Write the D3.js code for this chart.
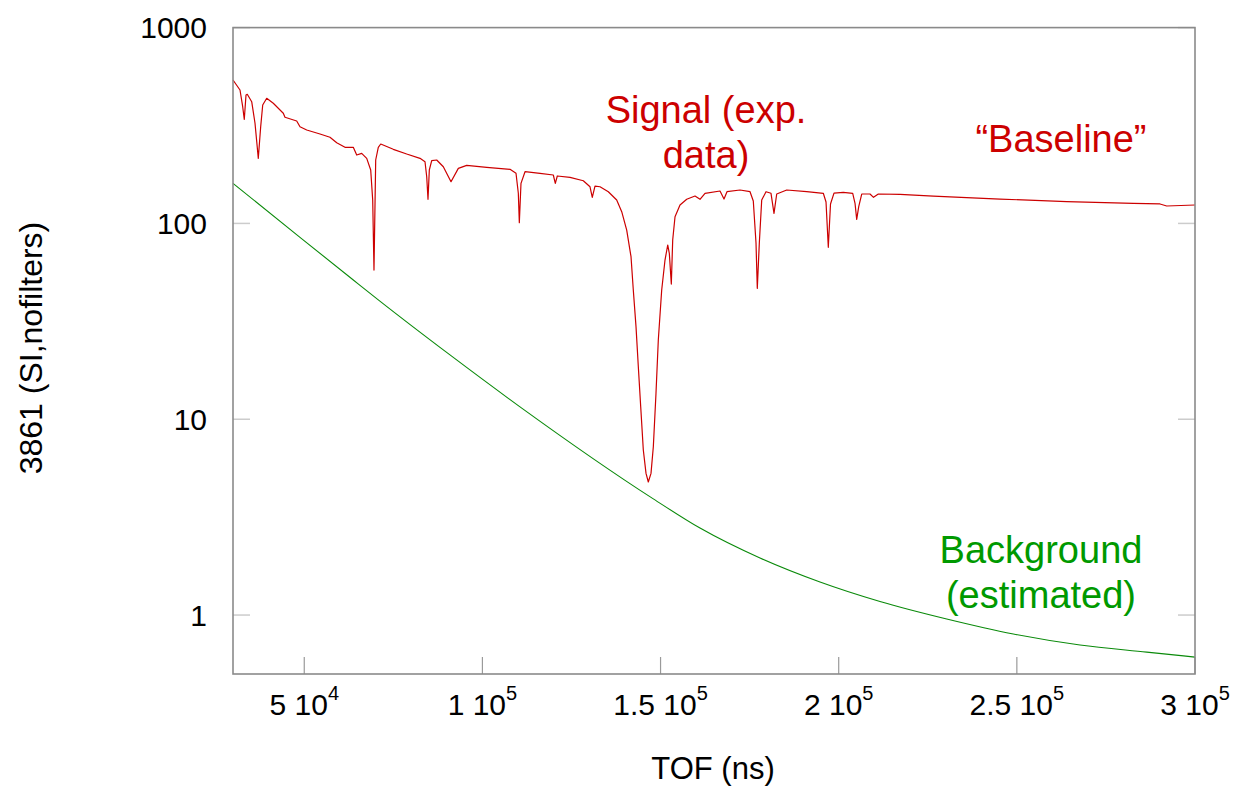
<!DOCTYPE html>
<html>
<head>
<meta charset="utf-8">
<script src="https://cdn.jsdelivr.net/npm/d3@7"></script>
<style>
  html, body { margin: 0; padding: 0; background: #ffffff; }
  svg { display: block; font-family: "Liberation Sans", Arial, sans-serif; }
</style>
</head>
<body>
<svg id="chart" width="1235" height="789"></svg>
<script>
// ---------- data ----------
const signalX = [30000, 31965, 32720, 33170, 33650, 34010, 35250, 36170, 37100, 37770,
  38340, 39460, 41310, 44120, 44590, 47880, 48800, 50690, 54420, 57220,
  59110, 61430, 63760, 64720, 66120, 67530, 68650, 69210, 69570, 70050,
  70780, 71460, 74990, 78750, 82490, 83890, 84370, 84730, 85100, 85770,
  87170, 89030, 91190, 93240, 95590, 101210, 107750, 109430, 110080, 110360,
  110830, 111960, 116170, 119900, 120460, 121020, 124590, 128320, 130200, 130840,
  131600, 133010, 135340, 137690, 139100, 140500, 141710, 142350, 143110, 143760,
  144430, 145160, 145920, 146560, 147320, 147970, 148720, 149370, 150320, 151250,
  152010, 152460, 153020, 153410, 154060, 155460, 157340, 159670, 161070, 162480,
  166690, 167810, 168650, 172300, 175110, 176030, 176790, 177150, 177720, 178390,
  179600, 181000, 181840, 182600, 185410, 191020, 195680, 196440, 197080, 197700,
  198680, 201290, 203930, 204580, 205050, 205620, 206460, 208790, 209770, 211120,
  217210, 226550, 245270, 263990, 282690, 290180, 292060, 300000];
const signalY = [540, 480, 394.5, 340.1, 452.7, 456.4, 418.4, 325.6, 215.0, 311.8,
  402.5, 435.4, 410.6, 365.1, 348.3, 333.4, 311.8, 299.9, 286.2, 275.3,
  258.4, 244.7, 244.7, 223.5, 228.0, 215.0, 187.4, 131.7, 57.8, 210.8,
  244.7, 254.4, 239.0, 226.2, 215.0, 206.6, 173.2, 132.8, 187.4, 209.1,
  210.8, 194.8, 163.3, 191.1, 198.0, 193.4, 188.9, 180.3, 142.5, 100.8,
  160.2, 183.7, 180.3, 176.7, 160.2, 174.7, 172.0, 165.2, 153.9, 135.9,
  155.2, 153.9, 145.2, 131.7, 114.8, 92.5, 67.6, 45.7, 29.7, 18.54,
  11.58, 6.96, 5.29, 4.78, 5.29, 7.24, 13.56, 25.4, 45.7, 65.0,
  77.6, 70.4, 49.0, 82.3, 108.2, 124.2, 132.8, 138.0, 132.8, 142.5,
  146.4, 133.2, 145.2, 148.1, 145.2, 130.1, 79.4, 46.6, 79.4, 131.7,
  145.2, 142.5, 112.6, 141.3, 148.1, 145.2, 142.5, 128.6, 75.5, 125.7,
  142.9, 144.1, 142.5, 126.7, 104.9, 121.7, 141.3, 141.3, 135.9, 141.3,
  140.8, 138.0, 133.2, 129.1, 126.7, 125.7, 122.7, 124.2];

const backgroundX = [30000, 48800, 63770, 70780, 90900, 110550, 147970, 161070,
  177910, 194750, 211590, 230310, 249010, 267730, 286450, 300000];
const backgroundY = [160.2, 84.9, 51.4, 40.7, 21.3, 11.57, 3.92, 2.78,
  1.955, 1.474, 1.172, 0.954, 0.800, 0.703, 0.647, 0.610];

const xTickValues = [50000, 100000, 150000, 200000, 250000, 300000];
const xTickMantissa = ["5", "1", "1.5", "2", "2.5", "3"];
const xTickExponent = ["4", "5", "5", "5", "5", "5"];
const yTickValues = [1, 10, 100, 1000];
const yTickLabels = ["1", "10", "100", "1000"];

const xTitle = "TOF (ns)";
const yTitle = "3861 (SI,nofilters)";

// ---------- layout ----------
const svg = d3.select("#chart");
const mLeft = 233, mRight = 1195, mTop = 27.6, mBottom = 674;

const x = d3.scaleLinear().domain([30000, 300000]).range([mLeft, mRight]);
const y = d3.scaleLog().domain([0.5, 1000]).range([mBottom, mTop]);

const red = "#cc0000", green = "#009900";

// ticks (inward)
const tickLen = 17;
svg.append("g").selectAll("line").data(xTickValues).join("line")
  .attr("x1", d => x(d)).attr("x2", d => x(d))
  .attr("y1", mBottom).attr("y2", mBottom - tickLen)
  .attr("stroke", "#9a9a9a").attr("stroke-width", 1.2);
svg.append("g").selectAll("line").data(yTickValues).join("line")
  .attr("x1", mLeft).attr("x2", mLeft + tickLen)
  .attr("y1", d => y(d)).attr("y2", d => y(d))
  .attr("stroke", "#cccccc").attr("stroke-width", 1.5);
svg.append("g").selectAll("line").data(yTickValues).join("line")
  .attr("x1", mRight).attr("x2", mRight - tickLen)
  .attr("y1", d => y(d)).attr("y2", d => y(d))
  .attr("stroke", "#cccccc").attr("stroke-width", 1.5);

// data lines
const sig = signalX.map((d, i) => [d, signalY[i]]);
const bg = backgroundX.map((d, i) => [d, backgroundY[i]]);

svg.append("path")
  .attr("d", d3.line().x(d => x(d[0])).y(d => y(d[1])).curve(d3.curveMonotoneX)(bg))
  .attr("fill", "none").attr("stroke", "#0a8a0a").attr("stroke-width", 1.1);

svg.append("path")
  .attr("d", d3.line().x(d => x(d[0])).y(d => y(d[1]))(sig))
  .attr("fill", "none").attr("stroke", "#cc0000").attr("stroke-width", 1.2)
  .attr("stroke-linejoin", "round");

// frame
svg.append("rect")
  .attr("x", mLeft).attr("y", mTop)
  .attr("width", mRight - mLeft).attr("height", mBottom - mTop)
  .attr("fill", "none").attr("stroke", "#8a8a8a").attr("stroke-width", 1.6);

// x tick labels
const xl = svg.append("g").selectAll("text").data(xTickValues).join("text")
  .attr("x", d => x(d)).attr("y", 715)
  .attr("text-anchor", "middle")
  .attr("font-size", 30).attr("fill", "#000");
xl.append("tspan").text((d, i) => xTickMantissa[i] + " 10");
xl.append("tspan").attr("font-size", 20).attr("dy", -15)
  .text((d, i) => xTickExponent[i]);

// y tick labels
svg.append("g").selectAll("text").data(yTickValues).join("text")
  .attr("x", 207).attr("y", d => y(d) + 10.5)
  .attr("text-anchor", "end")
  .attr("font-size", 30).attr("fill", "#000")
  .text((d, i) => yTickLabels[i]);

// axis titles
svg.append("text").attr("x", 713).attr("y", 779)
  .attr("text-anchor", "middle").attr("font-size", 31).attr("fill", "#000")
  .text(xTitle);
svg.append("text")
  .attr("transform", "translate(42,348) rotate(-90)")
  .attr("text-anchor", "middle").attr("font-size", 32).attr("fill", "#000")
  .text(yTitle);

// annotations
function note(lines, cx, y0, color) {
  const t = svg.append("text").attr("text-anchor", "middle")
    .attr("font-size", 38).attr("fill", color);
  lines.forEach((s, i) => t.append("tspan").attr("x", cx).attr("y", y0 + i * 45).text(s));
}
note(["Signal (exp.", "data)"], 706, 123, red);
note(["\u201CBaseline\u201D"], 1061, 152, red);
note(["Background", "(estimated)"], 1041, 563, green);
</script>
</body>
</html>
